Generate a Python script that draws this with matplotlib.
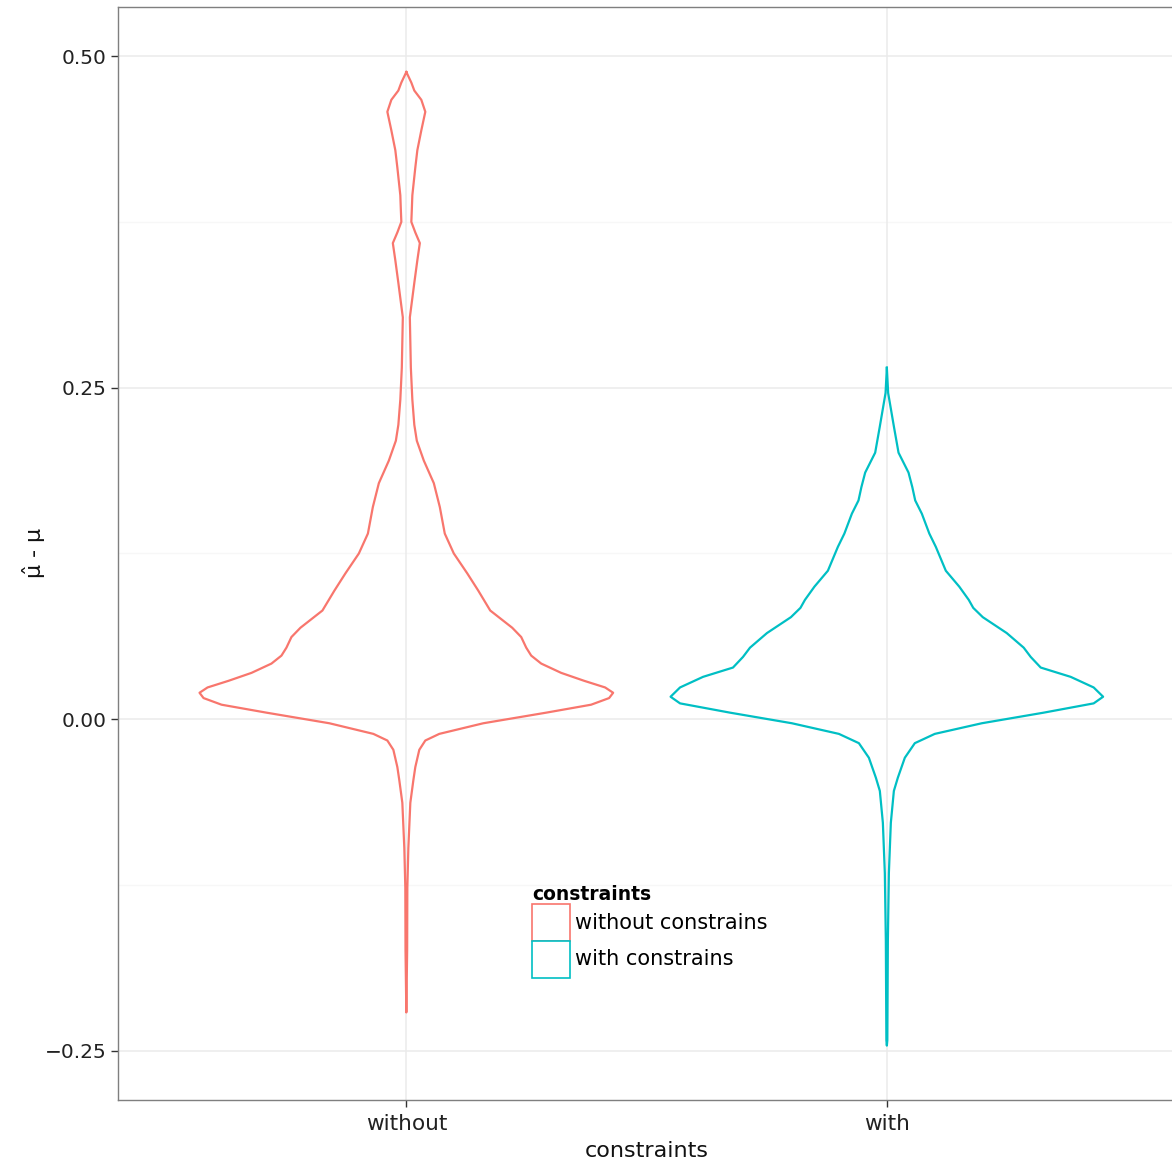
import numpy as np
import matplotlib
matplotlib.use("Agg")
import matplotlib.pyplot as plt
from matplotlib.patches import Patch

# categories and legend labels
categories = ["without", "with"]
legend_labels = ["without constrains", "with constrains"]
colors = ["#F8766D", "#00BFC4"]

# violin outline: y value and half width (x units)
y_without = [0.488, 0.480, 0.474, 0.467, 0.458, 0.444, 0.429, 0.416, 0.395, 0.384,
             0.375, 0.367, 0.359, 0.346, 0.329, 0.303, 0.265, 0.241, 0.222, 0.210,
             0.195, 0.178, 0.160, 0.140, 0.125, 0.110, 0.097, 0.082, 0.069, 0.062,
             0.054, 0.048, 0.042, 0.035, 0.029, 0.024, 0.020, 0.016, 0.011, 0.005,
             -0.003, -0.011, -0.016, -0.023, -0.036, -0.046, -0.063, -0.097, -0.127,
             -0.174, -0.221]
hw_without = [0.0, 0.0104, 0.0166, 0.0312, 0.0395, 0.0312, 0.0229, 0.0187, 0.0125, 0.0114,
              0.0104, 0.0187, 0.0281, 0.0229, 0.0166, 0.0073, 0.0094, 0.0125, 0.0166, 0.0218,
              0.0364, 0.0572, 0.0697, 0.0800, 0.0988, 0.1268, 0.1497, 0.1746, 0.2204, 0.2391,
              0.2495, 0.2599, 0.2807, 0.3222, 0.3701, 0.4137, 0.4304, 0.4220, 0.3846, 0.2911,
              0.1601, 0.0686, 0.0395, 0.0270, 0.0187, 0.0146, 0.0083, 0.0042, 0.0021,
              0.0017, 0.0]

y_with = [0.265, 0.246, 0.220, 0.201, 0.186, 0.175, 0.165, 0.155, 0.140, 0.130,
          0.112, 0.100, 0.090, 0.084, 0.077, 0.065, 0.054, 0.047, 0.039, 0.032,
          0.024, 0.017, 0.012, 0.005, -0.003, -0.011, -0.018, -0.029, -0.044, -0.054,
          -0.078, -0.116, -0.167, -0.242, -0.246]
hw_with = [0.0, 0.0027, 0.0150, 0.0243, 0.0451, 0.0530, 0.0590, 0.0728, 0.0884, 0.1019,
           0.1227, 0.1507, 0.1705, 0.1798, 0.1996, 0.2495, 0.2848, 0.2994, 0.3202, 0.3825,
           0.4304, 0.4501, 0.4304, 0.3264, 0.1975, 0.0998, 0.0582, 0.0374, 0.0229, 0.0146,
           0.0083, 0.0042, 0.0021, 0.0010, 0.0]

yticks = [-0.25, 0.0, 0.25, 0.50]
yticklabels = ["\u22120.25", "0.00", "0.25", "0.50"]

fig = plt.figure(figsize=(11.72, 11.64), dpi=100)
ax = fig.add_axes([0.1007, 0.055, 0.902, 0.939])

# grid (ggplot theme_bw style)
for y in [-0.125, 0.125, 0.375]:
    ax.axhline(y, color="#F7F7F7", lw=1.0, zorder=0)
for y in yticks:
    ax.axhline(y, color="#EBEBEB", lw=1.1, zorder=0)
for x in [1, 2]:
    ax.axvline(x, color="#EBEBEB", lw=1.1, zorder=0)

profiles = [(y_without, hw_without), (y_with, hw_with)]
for i, (yy, hw) in enumerate(profiles):
    yy = np.array(yy)
    hw = np.array(hw)
    c = i + 1
    xs = np.concatenate([c + hw, (c - hw)[::-1]])
    ys = np.concatenate([yy, yy[::-1]])
    ax.plot(xs, ys, color=colors[i], lw=1.6, solid_joinstyle="round", zorder=3)

ax.set_xlim(0.4, 2.6)
ax.set_ylim(-0.287, 0.537)
ax.set_xticks([1, 2])
ax.set_xticklabels(categories)
ax.set_yticks(yticks)
ax.set_yticklabels(yticklabels)
ax.tick_params(axis="both", length=5, width=1, color="#333333", labelcolor="#222222")
ax.tick_params(axis="x", labelsize=15.6, pad=5)
ax.tick_params(axis="y", labelsize=14.5, pad=3)

for s in ax.spines.values():
    s.set_color("#7F7F7F")
    s.set_linewidth(1.0)

ax.set_xlabel("constraints", fontsize=16, color="#111111", labelpad=5)
ax.set_ylabel(r"$\hat{\mathrm{\mu}}$ - $\mathrm{\mu}$", fontsize=16, color="#111111", labelpad=-2)

handles = [Patch(facecolor="white", edgecolor=colors[i], lw=1.2) for i in range(2)]
leg = ax.legend(handles, legend_labels, title="constraints", loc="upper left",
                bbox_to_anchor=(0.392, 0.197), frameon=False, fontsize=15,
                handlelength=1.82, handleheight=2.35, labelspacing=0.0,
                handletextpad=0.2, borderpad=0, borderaxespad=0,
                alignment="left")
leg.get_title().set_fontweight("bold")
leg.get_title().set_fontsize(13.5)

fig.savefig("out.png", dpi=100)
